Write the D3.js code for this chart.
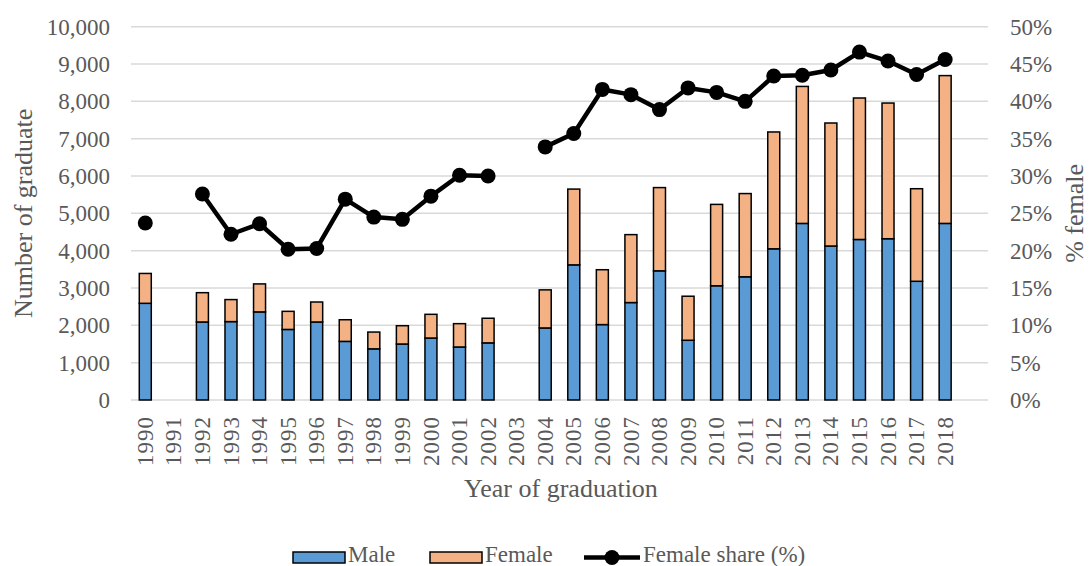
<!DOCTYPE html>
<meta charset="utf-8">
<script src="https://d3js.org/d3.v7.min.js"></script>
<style>
  body { margin: 0; background: #fff; }
  svg, svg text { font-family: "Liberation Serif", LiberationSerif, Tinos, "DejaVu Serif", "Times New Roman", serif !important; }
  svg text { fill: #595959; }
</style>
<div id="chart"></div>
<script>

// data
var years = ["1990","1991","1992","1993","1994","1995","1996","1997","1998","1999",
             "2000","2001","2002","2003","2004","2005","2006","2007","2008","2009",
             "2010","2011","2012","2013","2014","2015","2016","2017","2018"];
var male = [2590, null, 2090, 2100, 2360, 1890, 2090, 1570, 1370, 1500,
            1660, 1420, 1530, null, 1930, 3620, 2020, 2610, 3460, 1600,
            3060, 3300, 4050, 4730, 4125, 4300, 4320, 3180, 4730];
var female = [800, null, 785, 590, 750, 485, 535, 580, 450, 490,
              635, 625, 660, null, 1020, 2030, 1470, 1820, 2230, 1180,
              2180, 2230, 3130, 3670, 3295, 3790, 3635, 2480, 3960];
var share = [23.7, null, 27.6, 22.2, 23.6, 20.2, 20.3, 26.9, 24.5, 24.2,
             27.3, 30.1, 30.0, null, 33.9, 35.7, 41.6, 40.9, 38.9, 41.8,
             41.2, 40.0, 43.4, 43.5, 44.2, 46.6, 45.4, 43.6, 45.6];
var leftTicks = [0,1000,2000,3000,4000,5000,6000,7000,8000,9000,10000];
var rightTicks = [0,5,10,15,20,25,30,35,40,45,50];

var W = 1090, H = 566;
var margin = {top: 26.7, right: 102, bottom: 166, left: 131},
    width = W - margin.left - margin.right,
    height = H - margin.top - margin.bottom;

var serif = "'Liberation Serif', LiberationSerif, Tinos, 'DejaVu Serif', serif";

var root = d3.select("#chart").append("svg")
    .attr("width", W).attr("height", H)
    .attr("font-family", serif);
var svg = root.append("g")
    .attr("transform", "translate(" + margin.left + "," + margin.top + ")");

// one empty slot is left at the right end, as in the original
var step = width / (years.length + 1);
var x = d3.scaleBand().domain(years).range([0, step * years.length]).padding(0);
var y = d3.scaleLinear().domain([0, 10000]).range([height, 0]);
var y2 = d3.scaleLinear().domain([0, 50]).range([height, 0]);

var blue = "#5B9BD5", orange = "#F4B183";

// grid
svg.selectAll(".grid")
  .data(leftTicks)
  .enter().append("line")
    .attr("x1", 0).attr("x2", width)
    .attr("y1", function(d){ return y(d); })
    .attr("y2", function(d){ return y(d); })
    .attr("stroke", "#d9d9d9")
    .attr("stroke-width", 1.5);

// left axis
var yAxis = svg.append("g")
  .call(d3.axisLeft(y).tickValues(leftTicks).tickSize(0).tickPadding(21)
          .tickFormat(d3.format(",")));
yAxis.attr("font-family", serif).select(".domain").remove();
yAxis.selectAll("text").style("font-size", "23px").attr("dy", "0.33em");

// right axis
var y2Axis = svg.append("g")
  .attr("transform", "translate(" + width + ",0)")
  .call(d3.axisRight(y2).tickValues(rightTicks).tickSize(0).tickPadding(22)
          .tickFormat(function(d){ return d + "%"; }));
y2Axis.attr("font-family", serif).select(".domain").remove();
y2Axis.selectAll("text").style("font-size", "23px").attr("dy", "0.33em");

// x labels
var xAxis = svg.append("g")
  .attr("transform", "translate(0," + height + ")")
  .call(d3.axisBottom(x).tickSize(0).tickPadding(0));
xAxis.attr("font-family", serif).select(".domain").remove();
xAxis.selectAll("text")
  .style("font-size", "23px")
  .style("letter-spacing", "1px")
  .attr("text-anchor", "end")
  .attr("transform", "rotate(-90)")
  .attr("x", -16)
  .attr("y", 0)
  .attr("dy", "0.33em");

// stacked bars
var rows = years.map(function(d, i){ return {year: d, male: male[i], female: female[i], share: share[i]}; })
  .filter(function(d){ return d.male != null; });
var bw = step * 0.42;

svg.selectAll(".male")
  .data(rows)
  .enter().append("rect")
    .attr("x", function(d){ return x(d.year) + (x.bandwidth() - bw) / 2; })
    .attr("y", function(d){ return y(d.male); })
    .attr("width", bw)
    .attr("height", function(d){ return height - y(d.male); })
    .attr("fill", blue)
    .attr("stroke", "#000")
    .attr("stroke-width", 1.5);

svg.selectAll(".female")
  .data(rows)
  .enter().append("rect")
    .attr("x", function(d){ return x(d.year) + (x.bandwidth() - bw) / 2; })
    .attr("y", function(d){ return y(d.male + d.female); })
    .attr("width", bw)
    .attr("height", function(d){ return y(d.male) - y(d.male + d.female); })
    .attr("fill", orange)
    .attr("stroke", "#000")
    .attr("stroke-width", 1.5);

// female share line
var pts = years.map(function(d, i){ return {year: d, v: share[i]}; });
var line = d3.line()
  .defined(function(d){ return d.v != null; })
  .x(function(d){ return x(d.year) + x.bandwidth() / 2; })
  .y(function(d){ return y2(d.v); });

svg.append("path")
  .datum(pts)
  .attr("d", line)
  .attr("fill", "none")
  .attr("stroke", "#000")
  .attr("stroke-width", 4.5)
  .attr("stroke-linejoin", "round");

svg.selectAll(".dot")
  .data(pts.filter(function(d){ return d.v != null; }))
  .enter().append("circle")
    .attr("cx", function(d){ return x(d.year) + x.bandwidth() / 2; })
    .attr("cy", function(d){ return y2(d.v); })
    .attr("r", 7.5)
    .attr("fill", "#000");

// axis titles
svg.append("text")
  .attr("transform", "translate(" + (32 - margin.left) + "," + (height / 2) + ") rotate(-90)")
  .attr("text-anchor", "middle")
  .style("font-size", "26px")
  .text("Number of graduate");

svg.append("text")
  .attr("transform", "translate(" + (1083 - margin.left) + "," + (height / 2) + ") rotate(-90)")
  .attr("text-anchor", "middle")
  .style("font-size", "26px")
  .text("% female");

svg.append("text")
  .attr("x", 561 - margin.left)
  .attr("y", 497 - margin.top)
  .attr("text-anchor", "middle")
  .style("font-size", "26px")
  .text("Year of graduation");

// legend
var lg = root.append("g").attr("font-family", serif);
lg.append("rect").attr("x", 293).attr("y", 552).attr("width", 52).attr("height", 11)
  .attr("fill", blue).attr("stroke", "#000").attr("stroke-width", 1.5);
lg.append("text").attr("x", 348).attr("y", 562).style("font-size", "23px").text("Male");
lg.append("rect").attr("x", 430).attr("y", 552).attr("width", 52).attr("height", 11)
  .attr("fill", orange).attr("stroke", "#000").attr("stroke-width", 1.5);
lg.append("text").attr("x", 485).attr("y", 562).style("font-size", "23px").text("Female");
lg.append("line").attr("x1", 584).attr("x2", 640).attr("y1", 557.5).attr("y2", 557.5)
  .attr("stroke", "#000").attr("stroke-width", 4.5);
lg.append("circle").attr("cx", 612).attr("cy", 557.5).attr("r", 7.5).attr("fill", "#000");
lg.append("text").attr("x", 643).attr("y", 562).style("font-size", "23px").text("Female share (%)");

</script>
